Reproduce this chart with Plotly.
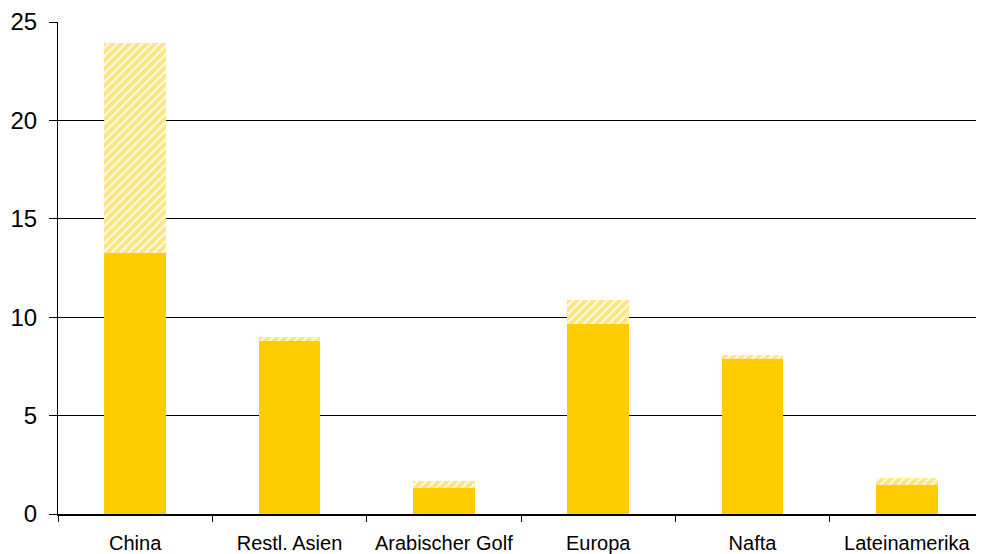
import plotly.graph_objects as go

categories = ["China", "Restl. Asien", "Arabischer Golf", "Europa", "Nafta", "Lateinamerika"]
solid_values = [13.25, 8.78, 1.34, 9.64, 7.89, 1.49]
hatched_values = [10.67, 0.23, 0.34, 1.23, 0.20, 0.34]
y_ticks = [0, 5, 10, 15, 20, 25]

YELLOW = "#FFCC00"
FONT = "Liberation Sans, Arial, sans-serif"

fig = go.Figure()
fig.add_trace(go.Bar(
    x=categories, y=solid_values,
    marker=dict(color=YELLOW, line=dict(width=0)),
    showlegend=False,
))
fig.add_trace(go.Bar(
    x=categories, y=hatched_values,
    marker=dict(color="white", line=dict(width=0),
                pattern=dict(shape="/", fgcolor=YELLOW, bgcolor="white",
                             size=6, solidity=0.7)),
    showlegend=False,
))

fig.update_layout(
    barmode="stack",
    bargap=0.6,
    width=976, height=546,
    margin=dict(l=50, r=0, t=14, b=40),
    plot_bgcolor="white", paper_bgcolor="white",
    font=dict(family=FONT, size=20, color="black"),
    xaxis=dict(
        type="category",
        automargin=False,
        showline=True, linecolor="black", linewidth=2,
        ticks="outside", tickson="boundaries", ticklen=6, tickcolor="black", tickwidth=1,
        showgrid=False,
        tickfont=dict(family=FONT, size=20, color="black"),
        ticklabelstandoff=10,
    ),
    yaxis=dict(
        range=[0, 25],
        automargin=False,
        tickvals=y_ticks,
        showline=True, linecolor="black", linewidth=1,
        ticks="outside", ticklen=8, tickcolor="black",
        showgrid=True, gridcolor="black", gridwidth=1,
        zeroline=False,
        tickfont=dict(family=FONT, size=24, color="black"),
        ticklabelstandoff=7,
    ),
)

fig.write_html("out.html")
